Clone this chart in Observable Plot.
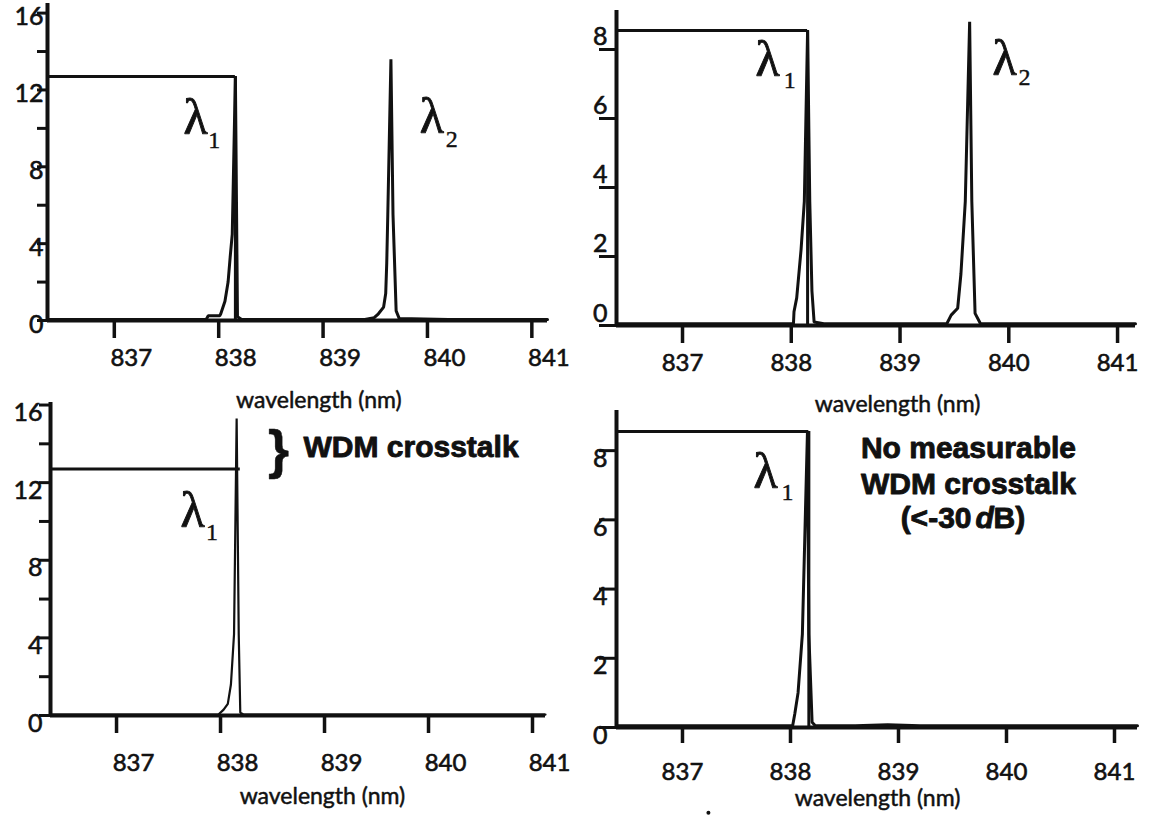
<!DOCTYPE html>
<html><head><meta charset="utf-8">
<script src="https://cdn.jsdelivr.net/npm/d3@7"></script>
<script src="https://cdn.jsdelivr.net/npm/@observablehq/plot@0.6"></script>
<style>
body{margin:0;background:#fff;}
#wrap{position:relative;width:1161px;height:820px;overflow:hidden;background:#fff;}
#wrap svg{position:absolute;overflow:visible;background:transparent;}
</style></head><body><div id="wrap"></div>
<script>
// ---------- shared ticks ----------
const xTickValues = [837, 838, 839, 840, 841];
const yTicksBig = [0, 2, 4, 6, 8, 10, 12, 14, 16];
const yLabelsBig = [0, 4, 8, 12, 16];
const yTicksSmall = [0, 2, 4, 6, 8];
const xTitle = "wavelength (nm)";

// ---------- panel 1 (top-left): two channels, λ1 and λ2 ----------
const p1Wave  = [836.36, 837.0, 837.6, 837.88, 837.9, 838.01, 838.02, 838.06, 838.09, 838.11, 838.13, 838.16, 838.18, 838.22, 838.6, 839.2, 839.40, 839.49, 839.53, 839.58, 839.60, 839.61, 839.62, 839.65, 839.67, 839.70, 839.73, 840.2, 841.15];
const p1Power = [0.05, 0.05, 0.05, 0.05, 0.25, 0.25, 0.35, 1.0, 2.0, 3.3, 4.5, 12.7, 0.2, 0.05, 0.05, 0.05, 0.05, 0.15, 0.35, 0.7, 1.4, 3.0, 5.5, 13.6, 5.5, 0.5, 0.1, 0.05, 0.05];
const p1Box = [12.7, 838.16];               // level, right edge
const p1LambdaX = [837.664, 839.927], p1LambdaY = [9.69, 9.74];
const p1SubX = [837.90, 840.176], p1SubY = [8.96, 9.02], p1Sub = ["1", "2"];

// ---------- panel 2 (top-right) ----------
const p2Wave  = [836.393, 837.5, 838.0, 838.02, 838.025, 838.05, 838.09, 838.12, 838.15, 838.17, 838.19, 838.21, 838.3, 839.0, 839.43, 839.47, 839.53, 839.56, 839.60, 839.64, 839.66, 839.69, 839.74, 840.5, 841.165];
const p2Power = [0.05, 0.05, 0.05, 0.05, 0.4, 0.8, 2.2, 3.6, 8.55, 3.6, 1.0, 0.1, 0.05, 0.05, 0.05, 0.3, 0.5, 1.5, 3.6, 8.8, 3.6, 0.35, 0.05, 0.05, 0.05];
const p2Box = [8.55, 838.15];
const p2LambdaX = [837.671, 839.85], p2LambdaY = [7.22, 7.25];
const p2SubX = [837.93, 840.09], p2SubY = [6.87, 6.96], p2Sub = ["1", "2"];

// ---------- panel 3 (bottom-left): λ1 only, crosstalk ----------
const p3Wave  = [836.365, 837.5, 837.98, 838.03, 838.07, 838.10, 838.13, 838.155, 838.175, 838.19, 838.22, 838.8, 839.5, 840.3, 841.125];
const p3Power = [0.05, 0.05, 0.05, 0.3, 0.6, 1.6, 4.2, 15.3, 4.2, 0.15, 0.05, 0.05, 0.05, 0.05, 0.05];
const p3Box = [12.7, 838.19];
const p3LambdaX = [837.615], p3LambdaY = [9.69];
const p3SubX = [837.86], p3SubY = [9.02], p3Sub = ["1"];
const p3Note = ["WDM crosstalk"], p3NoteX = [838.798], p3NoteY = [13.81];
const p3BraceX = [838.557], p3BraceY = [13.66];

// ---------- panel 4 (bottom-right): λ1 only, no crosstalk ----------
const p4Wave  = [836.389, 837.5, 838.0, 838.02, 838.04, 838.07, 838.11, 838.157, 838.17, 838.2, 838.23, 838.6, 838.9, 839.2, 840.0, 841.213];
const p4Power = [0.05, 0.05, 0.05, 0.05, 0.4, 1.0, 2.7, 8.53, 2.7, 0.15, 0.05, 0.05, 0.08, 0.05, 0.05, 0.05];
const p4Box = [8.55, 838.17];
const p4LambdaX = [837.657], p4LambdaY = [6.91];
const p4SubX = [837.917], p4SubY = [6.56], p4Sub = ["1"];
const p4Note = ["No measurable", "WDM crosstalk"], p4NoteX = [839.648, 839.648], p4NoteY = [8.06, 7.02];
const p4DbParts = ["(<-30", "d", "B)"], p4DbX = [839.676, 839.713, 839.88], p4DbY = 6.04;

const SANS = "Lato, 'Open Sans', sans-serif";
const BOLD = "'Liberation Sans', Arial, sans-serif";
const SERIF = "'Liberation Serif', 'DejaVu Serif', serif";
const INK = "#111";

function boldText(data, opts) {
  return Plot.text(data, {fontSize: 30, fontFamily: BOLD, fontWeight: "bold", fill: INK, stroke: INK, strokeWidth: 0.9, lineAnchor: "middle", ...opts});
}

function panel(c) {
  const data = c.wave.map((w, i) => ({w, p: c.power[i]}));
  const lam = c.lambdaX.map((x, i) => ({x, y: c.lambdaY[i]}));
  const sub = c.subX.map((x, i) => ({x, y: c.subY[i], t: c.sub[i]}));
  const marks = [
    // axis lines
    Plot.ruleY([0], {x1: c.xDomain[0], x2: c.xDomain[1], strokeWidth: 4, stroke: INK}),
    Plot.ruleX([c.xDomain[0]], {y1: 0, y2: c.yDomain[1], strokeWidth: 4, stroke: INK}),
    // x ticks and x tick labels (labels may sit offset from ticks)
    Plot.axisX({ticks: xTickValues, tickSize: c.xTickSize, tickFormat: () => "", label: null, strokeWidth: 3.5, stroke: INK}),
    Plot.axisX({ticks: xTickValues, tickSize: 0, tickPadding: c.xTickSize + c.xTickPad, dx: c.xdx,
      tickFormat: d => String(d), label: null, fontSize: 24, fontFamily: SANS, fill: INK,
      textStroke: INK, textStrokeWidth: 0.6}),
    // y ticks and y tick labels
    Plot.axisY({ticks: c.yTicks, tickSize: c.yTickSize, tickFormat: () => "", label: null, strokeWidth: 3, stroke: INK}),
    Plot.axisY({ticks: c.yLabels, tickSize: 0, tickPadding: c.yTickPad, dy: c.ydy, tickFormat: d => String(d),
      label: null, fontSize: 25, fontFamily: SANS, fill: INK, textStroke: INK, textStrokeWidth: 0.6}),
    // reference box
    Plot.ruleY([c.box[0]], {x1: c.xDomain[0], x2: c.box[1], strokeWidth: 3, stroke: INK}),
    // spectrum trace
    Plot.line(data, {x: "w", y: "p", strokeWidth: c.traceWidth, stroke: INK, strokeLinejoin: "miter"}),
    // lambda labels
    Plot.text(lam, {x: "x", y: "y", text: () => "λ", textAnchor: "start", lineAnchor: "bottom", fontSize: 50,
      fontFamily: SERIF, fill: INK, stroke: INK, strokeWidth: 0.9}),
    Plot.text(sub, {x: "x", y: "y", text: "t", textAnchor: "start", lineAnchor: "bottom", fontSize: 24,
      fontFamily: SERIF, fill: INK, stroke: INK, strokeWidth: 0.4}),
    // x title
    Plot.text([xTitle], {x: c.titleX, y: c.titleY, text: d => d, textAnchor: "middle", lineAnchor: "bottom",
      fontSize: 23, fontFamily: SANS, fill: INK, stroke: INK, strokeWidth: 0.5})
  ];
  if (c.boxVertical) marks.push(Plot.ruleX([c.box[1]], {y1: 0, y2: c.box[0], strokeWidth: 3, stroke: INK}));
  if (c.extra) marks.push(...c.extra);
  const svg = Plot.plot({
    width: c.width, height: c.height,
    marginLeft: c.ml, marginRight: c.mr, marginTop: c.mt, marginBottom: c.mb,
    x: {domain: c.xDomain, axis: null},
    y: {domain: c.yDomain, axis: null},
    style: {background: "transparent", overflow: "visible", fontFamily: SANS, color: INK},
    marks
  });
  svg.style.left = c.left + "px";
  svg.style.top = c.top + "px";
  document.getElementById("wrap").appendChild(svg);
}

panel({
  left: 0, top: 0, width: 580, height: 410, ml: 47, mr: 33, mt: 3, mb: 90,
  xDomain: [836.36, 841.15], yDomain: [0, 16.5],
  wave: p1Wave, power: p1Power, box: p1Box, boxVertical: true, traceWidth: 3,
  yTicks: yTicksBig, yLabels: yLabelsBig, yTickSize: 10, yTickPad: 4, ydy: 4,
  xTickSize: 18, xTickPad: 10, xdx: 17,
  lambdaX: p1LambdaX, lambdaY: p1LambdaY, subX: p1SubX, subY: p1SubY, sub: p1Sub,
  titleX: 838.96, titleY: -4.55
});

panel({
  left: 580, top: 0, width: 581, height: 410, ml: 36, mr: 26, mt: 10, mb: 85,
  xDomain: [836.393, 841.165], yDomain: [0, 9.13],
  wave: p2Wave, power: p2Power, box: p2Box, boxVertical: true, traceWidth: 3,
  yTicks: yTicksSmall, yLabels: yTicksSmall, yTickSize: 17, yTickPad: 9, ydy: -12,
  xTickSize: 18, xTickPad: 10, xdx: 0,
  lambdaX: p2LambdaX, lambdaY: p2LambdaY, subX: p2SubX, subY: p2SubY, sub: p2Sub,
  titleX: 838.977, titleY: -2.5
});

panel({
  left: 0, top: 400, width: 580, height: 420, ml: 50, mr: 35, mt: 2, mb: 105,
  xDomain: [836.365, 841.125], yDomain: [0, 16.13],
  wave: p3Wave, power: p3Power, box: p3Box, boxVertical: false, traceWidth: 2.2,
  yTicks: yTicksBig, yLabels: yLabelsBig, yTickSize: 11, yTickPad: 8, ydy: 8,
  xTickSize: 18, xTickPad: 20, xdx: 17,
  lambdaX: p3LambdaX, lambdaY: p3LambdaY, subX: p3SubX, subY: p3SubY, sub: p3Sub,
  titleX: 838.98, titleY: -4.54,
  extra: [
    boldText(p3BraceX, {x: d => d, y: (d, i) => p3BraceY[i], text: () => "}", textAnchor: "middle", fontSize: 54, strokeWidth: 0.5}),
    boldText(p3Note, {x: (d, i) => p3NoteX[i], y: (d, i) => p3NoteY[i], text: d => d, textAnchor: "start"})
  ]
});

panel({
  left: 580, top: 400, width: 581, height: 420, ml: 36, mr: 24, mt: 10, mb: 93,
  xDomain: [836.389, 841.213], yDomain: [0, 9.16],
  wave: p4Wave, power: p4Power, box: p4Box, boxVertical: true, traceWidth: 3,
  yTicks: yTicksSmall, yLabels: yTicksSmall, yTickSize: 17, yTickPad: 9, ydy: 8,
  xTickSize: 16, xTickPad: 19, xdx: 0,
  lambdaX: p4LambdaX, lambdaY: p4LambdaY, subX: p4SubX, subY: p4SubY, sub: p4Sub,
  titleX: 838.806, titleY: -2.28,
  extra: [
    boldText(p4Note, {x: (d, i) => p4NoteX[i], y: (d, i) => p4NoteY[i], text: d => d, textAnchor: "middle"}),
    boldText([p4DbParts[0]], {x: () => p4DbX[0], y: () => p4DbY, text: d => d, textAnchor: "end"}),
    boldText([p4DbParts[1]], {x: () => p4DbX[1], y: () => p4DbY, text: d => d, textAnchor: "start", fontStyle: "italic"}),
    boldText([p4DbParts[2]], {x: () => p4DbX[2], y: () => p4DbY, text: d => d, textAnchor: "start"}),
    Plot.dot([837.24], {x: d => d, y: () => -2.46, r: 2, fill: INK, stroke: null})
  ]
});
</script></body></html>
